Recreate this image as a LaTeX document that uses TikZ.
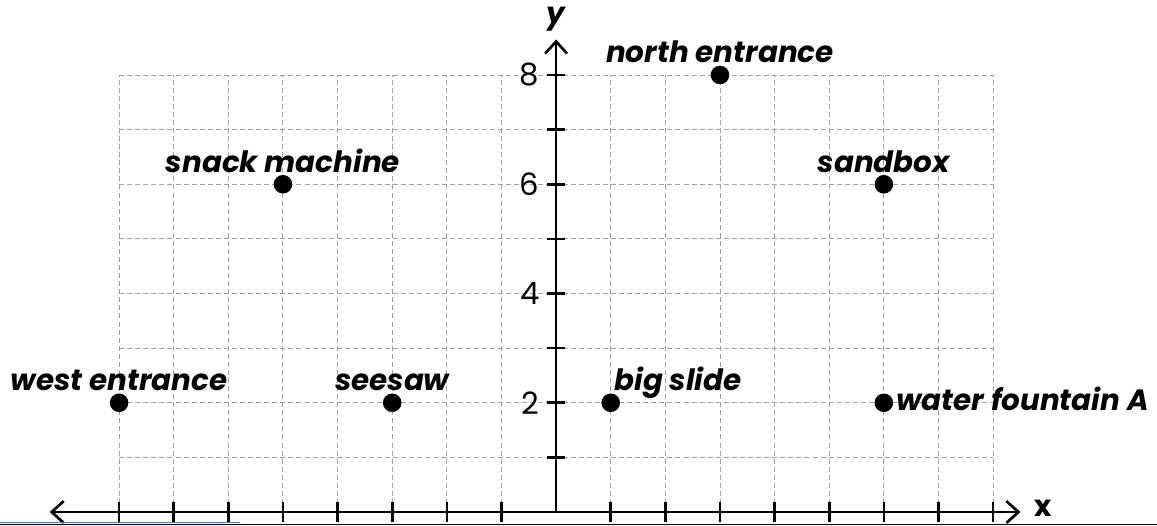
\documentclass[tikz,border=0pt]{standalone}
\usepackage{fontspec}
\setmainfont{Poppins}
\usepackage{tikz}
\usetikzlibrary{positioning,arrows.meta}
\definecolor{gridgray}{RGB}{160,160,160}
\definecolor{edgeblue}{RGB}{60,130,200}

\begin{document}
\begin{tikzpicture}[every node/.style={font=\bfseries\itshape\fontsize{15.3}{17}\selectfont, inner sep=0pt},
  dot/.style={circle, fill=black, minimum size=3.4mm},
  num/.style={font=\fontsize{16}{18}\selectfont, anchor=east}]
\useasboundingbox (-10.18,-0.238) rectangle (11.0,9.373);
% Gitter (gestrichelt)
\draw[gridgray, line width=0.5pt, dash pattern=on 2.6pt off 1.6pt] (-8,0) grid (8,8);
% Achsen
\coordinate (xl) at (-9.27,0);
\coordinate (xr) at (8.5,0);
\coordinate (yb) at (0,0);
\coordinate (yt) at (0,8.65);
\draw[line width=1.4pt, {Straight Barb[length=2.2mm,width=4mm]}-{Straight Barb[length=2.2mm,width=4mm]}] (xl) -- (xr);
\draw[line width=1.4pt, -{Straight Barb[length=2.2mm,width=4mm]}] (yb) -- (yt);
\foreach \i in {-8,...,-1,1,2,...,8} \draw[line width=1.4pt] (\i,-0.18) -- (\i,0.18);
\foreach \j in {1,...,8} \draw[line width=1.4pt] (-0.17,\j) -- (0.17,\j);
\foreach \j in {2,4,6,8} \node[num] at (-0.3,\j) {\j};
\node (ylab) at (0,9.02) {y};
\node[font=\bfseries\fontsize{15.3}{17}\selectfont] (xlab) at (8.92,0.06) {x};
% Orte
\node[dot] (wentr) at (-8,2) {};
\node[dot] (snack) at (-5,6) {};
\node[dot] (seesaw) at (-3,2) {};
\node[dot] (slide) at (1,2) {};
\node[dot] (nentr) at (3,8) {};
\node[dot] (sand) at (6,6) {};
\node[dot] (fount) at (6,2) {};
% Beschriftungen
\node[anchor=base] (wentrtxt) at (-8,2.22) {west entrance};
\node[anchor=base] (snacktxt) at (-5,6.22) {snack machine};
\node[anchor=base] (seesawtxt) at (-3,2.22) {seesaw};
\node[anchor=base west] (slidetxt) at (1.06,2.22) {big slide};
\node[anchor=base] (nentrtxt) at (3,8.22) {north entrance};
\node[anchor=base] (sandtxt) at (6,6.22) {sandbox};
\node[anchor=base west] (founttxt) at (6.22,1.85) {water fountain A};
% Rand unten
\draw[edgeblue, line width=0.6pt] (-10.18,-0.19) -- (-5.78,-0.19);
\draw[line width=0.8pt] (-10.18,-0.225) -- (11.0,-0.225);
\end{tikzpicture}
\end{document}
